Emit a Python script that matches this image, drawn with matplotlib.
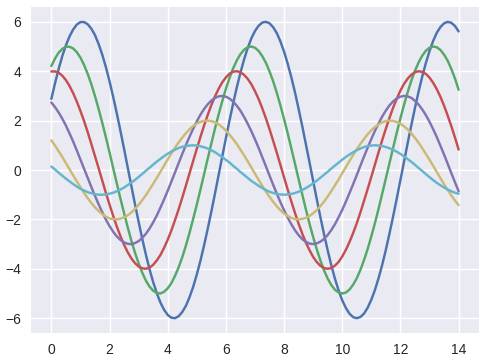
import numpy as np
import matplotlib
matplotlib.use("Agg")
import matplotlib.pyplot as plt

# sample positions along x (every 0.125)
x = np.linspace(0, 14, 113)

blue = [2.88, 3.51, 4.09, 4.61, 5.05, 5.41, 5.69, 5.89, 5.99, 5.99, 5.90, 5.72, 5.46,
        5.10, 4.67, 4.16, 3.59, 2.96, 2.29, 1.58, 0.85, 0.10, -0.65, -1.39, -2.10,
        -2.79, -3.43, -4.02, -4.54, -4.99, -5.37, -5.66, -5.87, -5.98, -6.00, -5.92,
        -5.75, -5.50, -5.15, -4.73, -4.23, -3.67, -3.05, -2.38, -1.68, -0.95, -0.20,
        0.55, 1.29, 2.01, 2.70, 3.35, 3.94, 4.48, 4.94, 5.33, 5.63, 5.84, 5.97, 6.00,
        5.94, 5.78, 5.54, 5.20, 4.79, 4.30, 3.75, 3.14, 2.47, 1.77, 1.04, 0.30, -0.45,
        -1.19, -1.92, -2.61, -3.26, -3.87, -4.41, -4.88, -5.28, -5.59, -5.82, -5.96,
        -6.00, -5.95, -5.81, -5.57, -5.25, -4.85, -4.37, -3.83, -3.22, -2.56, -1.87,
        -1.14, -0.40, 0.35, 1.10, 1.82, 2.52, 3.18, 3.79, 4.34, 4.82, 5.23, 5.56, 5.79,
        5.94, 6.00, 5.96, 5.83, 5.61]
green = [4.21, 4.51, 4.75, 4.90, 4.99, 4.99, 4.92, 4.77, 4.55, 4.25, 3.89, 3.47, 2.99,
         2.47, 1.91, 1.32, 0.71, 0.08, -0.54, -1.16, -1.75, -2.32, -2.86, -3.35, -3.78,
         -4.16, -4.48, -4.72, -4.89, -4.98, -5.00, -4.93, -4.79, -4.58, -4.29, -3.94,
         -3.53, -3.06, -2.54, -1.98, -1.40, -0.79, -0.17, 0.46, 1.08, 1.68, 2.25, 2.79,
         3.29, 3.73, 4.12, 4.44, 4.69, 4.87, 4.97, 5.00, 4.95, 4.82, 4.61, 4.34, 3.99,
         3.59, 3.12, 2.61, 2.06, 1.48, 0.87, 0.25, -0.38, -0.99, -1.60, -2.18, -2.72,
         -3.22, -3.67, -4.07, -4.40, -4.66, -4.85, -4.96, -5.00, -4.96, -4.84, -4.64,
         -4.38, -4.04, -3.64, -3.19, -2.68, -2.14, -1.56, -0.95, -0.33, 0.29, 0.91,
         1.52, 2.10, 2.65, 3.16, 3.62, 4.02, 4.36, 4.63, 4.83, 4.95, 5.00, 4.97, 4.86,
         4.67, 4.42, 4.09, 3.70, 3.25]
red = [3.99, 3.99, 3.94, 3.82, 3.64, 3.40, 3.11, 2.77, 2.39, 1.98, 1.53, 1.05, 0.56,
       0.07, -0.43, -0.93, -1.40, -1.86, -2.29, -2.68, -3.03, -3.33, -3.58, -3.77,
       -3.91, -3.98, -4.00, -3.95, -3.84, -3.66, -3.44, -3.15, -2.82, -2.45, -2.03,
       -1.59, -1.12, -0.63, -0.13, 0.37, 0.86, 1.34, 1.80, 2.23, 2.63, 2.98, 3.29,
       3.55, 3.75, 3.90, 3.98, 4.00, 3.96, 3.85, 3.69, 3.47, 3.19, 2.87, 2.50, 2.09,
       1.65, 1.18, 0.70, 0.20, -0.30, -0.80, -1.28, -1.74, -2.18, -2.58, -2.94, -3.25,
       -3.52, -3.73, -3.88, -3.97, -4.00, -3.97, -3.87, -3.72, -3.50, -3.23, -2.91,
       -2.55, -2.15, -1.71, -1.24, -0.76, -0.27, 0.23, 0.73, 1.22, 1.68, 2.12, 2.53,
       2.89, 3.22, 3.49, 3.70, 3.86, 3.96, 4.00, 3.97, 3.89, 3.74, 3.53, 3.27, 2.96,
       2.60, 2.20, 1.77, 1.31, 0.83]
purple = [2.73, 2.55, 2.33, 2.08, 1.80, 1.48, 1.15, 0.79, 0.42, 0.05, -0.32, -0.69,
          -1.05, -1.39, -1.71, -2.01, -2.27, -2.50, -2.69, -2.83, -2.93, -2.99, -3.00,
          -2.96, -2.88, -2.75, -2.58, -2.37, -2.12, -1.84, -1.52, -1.19, -0.84, -0.47,
          -0.10, 0.28, 0.65, 1.01, 1.35, 1.67, 1.97, 2.24, 2.47, 2.66, 2.81, 2.92,
          2.98, 3.00, 2.97, 2.89, 2.77, 2.60, 2.40, 2.15, 1.87, 1.57, 1.24, 0.89, 0.52,
          0.15, -0.23, -0.60, -0.96, -1.31, -1.63, -1.93, -2.20, -2.44, -2.64, -2.80,
          -2.91, -2.98, -3.00, -2.97, -2.90, -2.79, -2.63, -2.43, -2.19, -1.91, -1.61,
          -1.28, -0.93, -0.57, -0.20, 0.18, 0.55, 0.91, 1.26, 1.59, 1.89, 2.17, 2.41,
          2.62, 2.78, 2.90, 2.97, 3.00, 2.98, 2.92, 2.80, 2.65, 2.45, 2.22, 1.95, 1.65,
          1.33, 0.98, 0.62, 0.25, -0.13, -0.50, -0.86]
yellow = [1.20, 0.99, 0.76, 0.53, 0.28, 0.03, -0.22, -0.46, -0.70, -0.93, -1.14,
          -1.34, -1.51, -1.66, -1.79, -1.89, -1.96, -1.99, -2.00, -1.97, -1.92, -1.83,
          -1.72, -1.58, -1.41, -1.22, -1.02, -0.79, -0.56, -0.32, -0.07, 0.18, 0.43,
          0.67, 0.90, 1.12, 1.31, 1.49, 1.65, 1.78, 1.88, 1.95, 1.99, 2.00, 1.98, 1.93,
          1.85, 1.73, 1.60, 1.43, 1.25, 1.05, 0.82, 0.59, 0.35, 0.10, -0.15, -0.40,
          -0.64, -0.87, -1.09, -1.29, -1.47, -1.63, -1.76, -1.86, -1.94, -1.99, -2.00,
          -1.98, -1.94, -1.86, -1.75, -1.62, -1.46, -1.28, -1.07, -0.85, -0.62, -0.38,
          -0.13, 0.12, 0.37, 0.61, 0.84, 1.06, 1.26, 1.45, 1.61, 1.74, 1.85, 1.93, 1.98,
          2.00, 1.99, 1.94, 1.87, 1.77, 1.64, 1.48, 1.30, 1.10, 0.88, 0.65, 0.41, 0.17,
          -0.08, -0.33, -0.58, -0.81, -1.03, -1.24, -1.42]
cyan = [0.14, 0.02, -0.11, -0.23, -0.35, -0.46, -0.57, -0.67, -0.76, -0.83, -0.90,
        -0.94, -0.98, -1.00, -1.00, -0.99, -0.96, -0.92, -0.86, -0.79, -0.71, -0.61,
        -0.51, -0.40, -0.28, -0.16, -0.03, 0.09, 0.22, 0.34, 0.45, 0.56, 0.66, 0.75,
        0.82, 0.89, 0.94, 0.97, 0.99, 1.00, 0.99, 0.96, 0.92, 0.87, 0.80, 0.72, 0.62,
        0.52, 0.41, 0.30, 0.17, 0.05, -0.08, -0.20, -0.32, -0.44, -0.54, -0.64, -0.73,
        -0.81, -0.88, -0.93, -0.97, -0.99, -1.00, -0.99, -0.97, -0.93, -0.88, -0.81,
        -0.73, -0.64, -0.54, -0.43, -0.31, -0.19, -0.07, 0.06, 0.18, 0.30, 0.42, 0.53,
        0.63, 0.72, 0.80, 0.87, 0.93, 0.97, 0.99, 1.00, 0.99, 0.97, 0.93, 0.88, 0.82,
        0.74, 0.65, 0.55, 0.44, 0.33, 0.21, 0.08, -0.04, -0.17, -0.29, -0.41, -0.52,
        -0.62, -0.71, -0.79, -0.86, -0.92, -0.96]

series = [blue, green, red, purple, yellow, cyan]
colors = ["#4C72B0", "#55A868", "#C44E52", "#8172B2", "#CCB974", "#64B5CD"]

plt.rcParams["font.family"] = ["Liberation Sans", "DejaVu Sans"]

fig = plt.figure(figsize=(4.84, 3.61), dpi=100)
ax = fig.add_axes([31 / 484, 28 / 361, 448 / 484, 326 / 361])
ax.set_facecolor("#EAEAF2")
for s in ax.spines.values():
    s.set_visible(False)
ax.grid(True, color="white", linewidth=1)
ax.set_axisbelow(True)

for ys, c in zip(series, colors):
    ax.plot(x, ys, color=c, linewidth=1.75, solid_capstyle="round",
            solid_joinstyle="round")

ax.set_xticks([0, 2, 4, 6, 8, 10, 12, 14])
ax.set_yticks([-6, -4, -2, 0, 2, 4, 6])
ax.tick_params(length=0, labelsize=10, labelcolor="#262626", pad=7)

fig.savefig("out.png", dpi=100)
